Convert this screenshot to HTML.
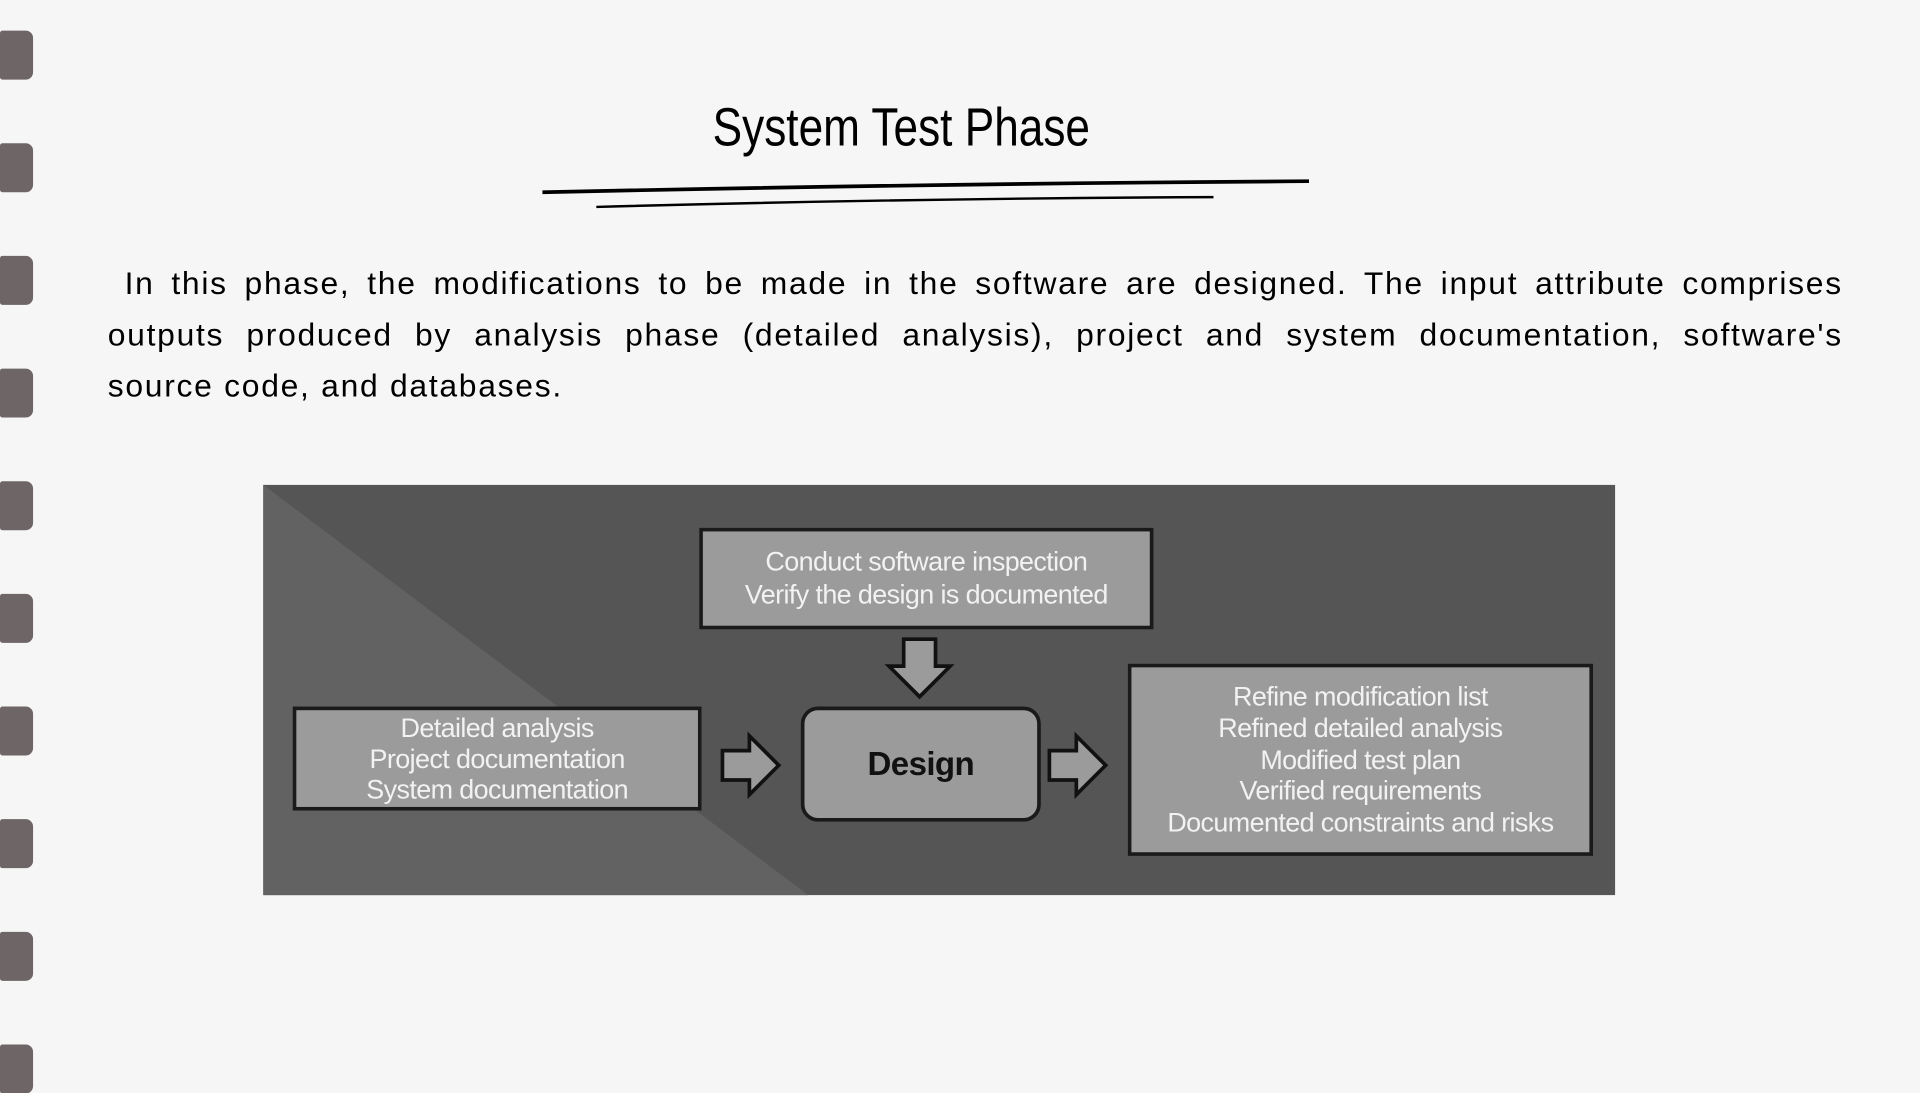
<!DOCTYPE html>
<html><head><style>
html,body{margin:0;padding:0;width:1920px;height:1080px;overflow:hidden;background:#f6f6f6}
#w{position:absolute;left:0;top:0;width:1568px;height:882px;transform:scale(1.22449);transform-origin:0 0;font-family:"Liberation Sans",sans-serif}
.tab{position:absolute;left:0;width:27px;height:40px;background:#6e6566;border-radius:2px 6px 6px 2px}
.t{position:absolute;color:#000}
.ln{text-align:justify;text-align-last:justify;white-space:nowrap}
.box{position:absolute;background:#9b9b9b;border:3px solid #1a1a1a;box-sizing:border-box;color:#f2f2f2;text-align:center;font-size:22px;display:flex;flex-direction:column;justify-content:center;line-height:1.2;letter-spacing:-0.5px}
</style></head><body><div id="w">
<div class="tab" style="top:25px"></div><div class="tab" style="top:117px"></div><div class="tab" style="top:209px"></div><div class="tab" style="top:301px"></div><div class="tab" style="top:393px"></div><div class="tab" style="top:485px"></div><div class="tab" style="top:577px"></div><div class="tab" style="top:669px"></div><div class="tab" style="top:761px"></div><div class="tab" style="top:853px"></div>
<div class="t" style="left:582px;top:80px;width:307px;font-size:44px;white-space:nowrap;transform:scaleX(0.82);transform-origin:0 0">System Test Phase</div>
<svg style="position:absolute;left:0;top:0" width="1568" height="882">
<path d="M443 157 Q760 150 1069 148" stroke="#000" stroke-width="3" fill="none"/>
<path d="M487 169 Q740 162 991 161" stroke="#000" stroke-width="2" fill="none"/>
<rect x="215" y="396" width="1104" height="335" fill="#555"/>
<polygon points="215,396 215,731 660,731" fill="#626262"/>
<path d="M738 522 h26 v22 h12 l-25 25 l-25 -25 h12 z" fill="#9b9b9b" stroke="#111" stroke-width="3"/>
<path d="M590 613 h22 v-12 l24 24 l-24 24 v-12 h-22 z" fill="#9b9b9b" stroke="#111" stroke-width="3"/>
<path d="M857 613 h22 v-12 l24 24 l-24 24 v-12 h-22 z" fill="#9b9b9b" stroke="#111" stroke-width="3"/>
</svg>
<div class="t" style="left:88px;top:210px;width:1417px;font-size:26px;line-height:42px;letter-spacing:1.4px">
<div class="ln">&nbsp;In this phase, the modifications to be made in the software are designed. The input attribute comprises</div>
<div class="ln">outputs produced by analysis phase (detailed analysis), project and system documentation, software's</div>
<div>source code, and databases.</div>
</div>
<div class="box" style="left:571px;top:431px;width:371px;height:83px">Conduct software inspection<br>Verify the design is documented</div>
<div class="box" style="left:239px;top:577px;width:334px;height:85px;line-height:1.15">Detailed analysis<br>Project documentation<br>System documentation</div>
<div class="box" style="left:654px;top:577px;width:196px;height:94px;border-radius:14px;color:#111;font-weight:bold;font-size:27px">Design</div>
<div class="box" style="left:921px;top:542px;width:380px;height:157px;line-height:1.17">Refine modification list<br>Refined detailed analysis<br>Modified test plan<br>Verified requirements<br>Documented constraints and risks</div>
</div></body></html>
